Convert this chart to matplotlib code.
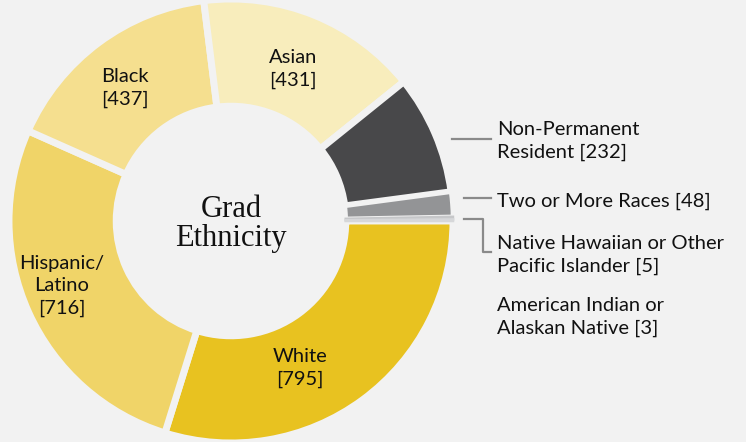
import matplotlib.pyplot as plt
from matplotlib.lines import Line2D
from matplotlib.patches import Wedge

# Datos (sentido horario desde las 3 en punto)
categorias = ["White", "Hispanic/\nLatino", "Black", "Asian", "Non-Permanent\nResident",
              "Two or More Races", "Native Hawaiian or Other\nPacific Islander",
              "American Indian or\nAlaskan Native"]
valores = [795, 716, 437, 431, 232, 48, 5, 3]
colores = ["#E8C220", "#F0D468", "#F5DF8F", "#F8EDBC", "#48484A", "#939496", "#C6C7C9", "#D6D7D9"]

BG = "#F2F2F2"
W, H = 746, 442
ANCHO = 0.483

plt.rcParams["font.family"] = ["Lato", "DejaVu Sans"]

fig = plt.figure(figsize=(W / 100, H / 100), dpi=100, facecolor=BG)
R = 222  # radio exterior en px
cx, cy = 231, 221
ax = fig.add_axes([(cx - R) / W, (H - cy - R) / H, 2 * R / W, 2 * R / H])
ax.set_facecolor(BG)

wedges, _ = ax.pie(valores, colors=colores, startangle=0, counterclock=False,
                   radius=1, wedgeprops=dict(width=ANCHO, edgecolor=BG, linewidth=5))
ax.set_xlim(-1, 1)
ax.set_ylim(-1, 1)
ax.axis("off")

# porciones pequeñas: se ensanchan un poco para que se vean (recortadas al anillo)
anillo = Wedge((0, 0), 1, 0, 360, width=ANCHO)
anillo.set_transform(ax.transData)
wedges[5].set_linewidth(3.2)
for w in wedges[6:]:
    w.set_linewidth(1.8)
    w.set_edgecolor(w.get_facecolor())
    w.set_clip_path(anillo)

# etiquetas interiores (posiciones en px)
internas = [(0, 300, 368), (1, 62, 286), (2, 125, 88), (3, 293, 69)]
for i, px, py in internas:
    fig.text(px / W, 1 - py / H, f"{categorias[i]}\n[{valores[i]}]", ha="center", va="center",
             fontsize=14.5, color="#111111", linespacing=1.38)

# texto central
fig.text(cx / W, 1 - 224 / H, "Grad\nEthnicity", ha="center", va="center",
         family="Liberation Serif", fontsize=22, color="#111111", linespacing=0.98)

# etiquetas externas
externas = [(4, 141), (5, 201), (6, 255), (7, 317)]
for i, py in externas:
    fig.text(497 / W, 1 - py / H, f"{categorias[i]} [{valores[i]}]", ha="left", va="center",
             fontsize=14.5, color="#111111", linespacing=1.38)

# líneas guía
lc = "#8A8A8A"
def linea(xs, ys):
    fig.add_artist(Line2D([x / W for x in xs], [1 - y / H for y in ys], color=lc, lw=1.6,
                          transform=fig.transFigure))

linea([452, 491], [139, 139])
linea([464, 491], [198, 198])
linea([464, 483, 483, 491], [219, 219, 252, 252])

fig.savefig("out.png", dpi=100, facecolor=BG)
